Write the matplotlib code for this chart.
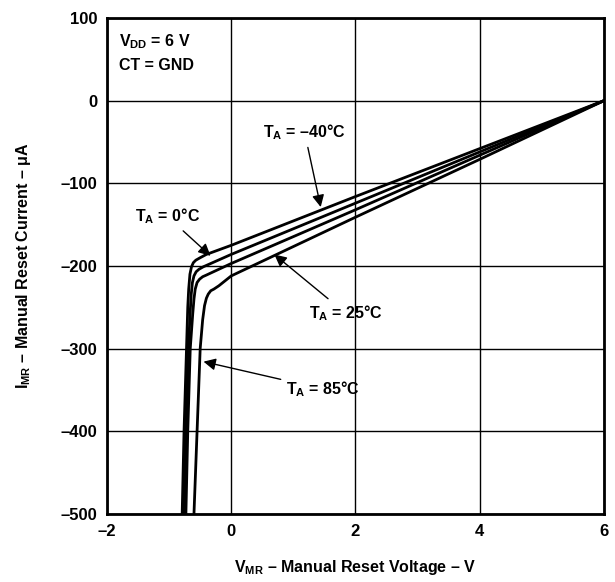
import matplotlib
matplotlib.use('Agg')
import matplotlib.pyplot as plt

# Curvas I_MR vs V_MR
v_a = [-0.79, -0.76, -0.72, -0.70, -0.685, -0.665, -0.64, -0.61, -0.57, -0.50, -0.40, 0, 2, 4, 6]
i_a = [-500, -400, -300, -250, -228, -210, -201, -196, -193, -190, -186, -175, -116, -58, 0]

v_b = [-0.76, -0.73, -0.69, -0.66, -0.645, -0.625, -0.60, -0.565, -0.52, -0.45, 0, 2, 4, 6]
i_b = [-500, -400, -300, -255, -235, -220, -212, -207, -204, -201, -186, -124, -62, 0]

v_c = [-0.73, -0.70, -0.66, -0.62, -0.60, -0.58, -0.55, -0.51, -0.46, -0.40, 0, 2, 4, 6]
i_c = [-500, -400, -300, -258, -240, -228, -220, -216, -213, -211, -197, -132, -66, 0]

v_d = [-0.60, -0.55, -0.50, -0.46, -0.43, -0.40, -0.37, -0.33, -0.28, -0.20, 0, 2, 4, 6]
i_d = [-500, -400, -300, -265, -248, -239, -234, -230, -228, -224, -212, -141, -71, 0]

x_ticks = [-2, 0, 2, 4, 6]
y_ticks = [-500, -400, -300, -200, -100, 0, 100]

plt.rcParams['font.family'] = ['Liberation Sans', 'DejaVu Sans']
plt.rcParams['font.weight'] = 'bold'
plt.rcParams['mathtext.fontset'] = 'custom'
plt.rcParams['mathtext.bf'] = 'Liberation Sans:bold'
plt.rcParams['mathtext.rm'] = 'Liberation Sans:bold'

MENOS = '\u2013'
GRADO = '\u00b0'
FS = 11.5

fig = plt.figure(figsize=(6.15, 5.82), dpi=100)
ax = fig.add_axes([0.174, 0.117, 0.808, 0.852])

for v, i in [(v_a, i_a), (v_b, i_b), (v_c, i_c), (v_d, i_d)]:
    ax.plot(v, i, color='black', linewidth=2.0, solid_joinstyle='round')

ax.set_xlim(-2, 6)
ax.set_ylim(-500, 100)
ax.set_xticks(x_ticks)
ax.set_yticks(y_ticks)
ax.set_xticklabels([str(t).replace('-', MENOS) for t in x_ticks])
ax.set_yticklabels([str(t).replace('-', MENOS) for t in y_ticks])
ax.tick_params(length=0, labelsize=12, pad=7)
ax.grid(True, color='black', linewidth=1.0)
for s in ax.spines.values():
    s.set_linewidth(2.0)

ax.set_xlabel(r'V$_{\mathbf{MR}}$ ' + MENOS + ' Manual Reset Voltage ' + MENOS + ' V',
              fontsize=FS, fontweight='bold', labelpad=14)
ax.set_ylabel(r'I$_{\mathbf{MR}}$ ' + MENOS + r' Manual Reset Current ' + MENOS + r' $\mathbf{\mu}$A',
              fontsize=FS, fontweight='bold', labelpad=20)

ax.text(-1.8, 72, r'V$_{\mathbf{DD}}$ = 6 V', fontsize=FS, fontweight='bold', va='center')
ax.text(-1.8, 43, 'CT = GND', fontsize=FS, fontweight='bold', va='center')

flecha = dict(arrowstyle='-|>', color='black', lw=1.0, mutation_scale=18)
ax.annotate(r'T$_{\mathbf{A}}$ = ' + MENOS + '40' + GRADO + 'C',
            xy=(1.45, -132), xytext=(1.18, -38), ha='center', va='center',
            fontsize=FS, fontweight='bold', arrowprops=flecha)
ax.annotate(r'T$_{\mathbf{A}}$ = 0' + GRADO + 'C',
            xy=(-0.30, -190), xytext=(-1.03, -140), ha='center', va='center',
            fontsize=FS, fontweight='bold', arrowprops=flecha)
ax.annotate(r'T$_{\mathbf{A}}$ = 25' + GRADO + 'C',
            xy=(0.66, -184), xytext=(1.84, -257), ha='center', va='center',
            fontsize=FS, fontweight='bold', arrowprops=flecha)
ax.annotate(r'T$_{\mathbf{A}}$ = 85' + GRADO + 'C',
            xy=(-0.49, -315), xytext=(1.48, -349), ha='center', va='center',
            fontsize=FS, fontweight='bold', arrowprops=flecha)

plt.savefig('out.png', dpi=100)
plt.close()
